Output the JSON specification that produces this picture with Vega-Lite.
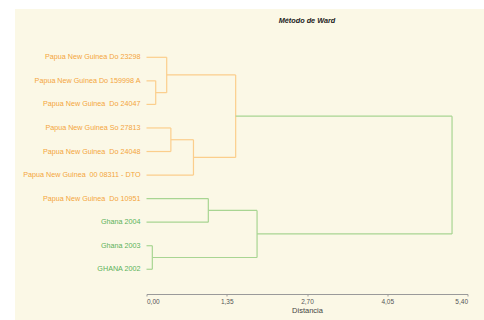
{
  "$schema": "https://vega.github.io/schema/vega-lite/v6.json",
  "width": 321,
  "height": 260.25,
  "autosize": {"type": "none"},
  "padding": {"left": 146.5, "top": 33.75, "right": 16.5, "bottom": 26},
  "background": "#ffffff",
  "title": {
    "text": "Método de Ward",
    "anchor": "middle",
    "frame": "group",
    "offset": -15.75,
    "font": "Liberation Sans",
    "fontSize": 7.3,
    "fontStyle": "italic",
    "fontWeight": "bold",
    "color": "#222222"
  },
  "config": {
    "view": {"stroke": null},
    "font": "Liberation Sans",
    "axisY": {"domain": false, "ticks": false, "labels": false, "grid": false, "title": null},
    "axisX": {
      "grid": false,
      "domainColor": "#9a9a9a",
      "tickColor": "#9a9a9a",
      "tickSize": 2,
      "labelFontSize": 6.5,
      "labelColor": "#555555",
      "labelPadding": 2,
      "titleFontSize": 7.5,
      "titleFontWeight": "normal",
      "titleColor": "#444444",
      "titlePadding": 2
    }
  },
  "datasets": {
    "segments": [
      {"d1": 0, "d2": 0.34, "o1": 1, "o2": 1, "grupo": "PNG"},
      {"d1": 0, "d2": 0.155, "o1": 2, "o2": 2, "grupo": "PNG"},
      {"d1": 0, "d2": 0.155, "o1": 3, "o2": 3, "grupo": "PNG"},
      {"d1": 0, "d2": 0.41, "o1": 4, "o2": 4, "grupo": "PNG"},
      {"d1": 0, "d2": 0.41, "o1": 5, "o2": 5, "grupo": "PNG"},
      {"d1": 0, "d2": 0.79, "o1": 6, "o2": 6, "grupo": "PNG"},
      {"d1": 0, "d2": 1.04, "o1": 7, "o2": 7, "grupo": "GH"},
      {"d1": 0, "d2": 1.04, "o1": 8, "o2": 8, "grupo": "GH"},
      {"d1": 0, "d2": 0.098, "o1": 9, "o2": 9, "grupo": "GH"},
      {"d1": 0, "d2": 0.098, "o1": 10, "o2": 10, "grupo": "GH"},
      {"d1": 0.155, "d2": 0.155, "o1": 2, "o2": 3, "grupo": "PNG"},
      {"d1": 0.155, "d2": 0.34, "o1": 2.5, "o2": 2.5, "grupo": "PNG"},
      {"d1": 0.34, "d2": 0.34, "o1": 1, "o2": 2.5, "grupo": "PNG"},
      {"d1": 0.34, "d2": 1.5, "o1": 1.75, "o2": 1.75, "grupo": "PNG"},
      {"d1": 0.41, "d2": 0.41, "o1": 4, "o2": 5, "grupo": "PNG"},
      {"d1": 0.41, "d2": 0.79, "o1": 4.5, "o2": 4.5, "grupo": "PNG"},
      {"d1": 0.79, "d2": 0.79, "o1": 4.5, "o2": 6, "grupo": "PNG"},
      {"d1": 0.79, "d2": 1.5, "o1": 5.25, "o2": 5.25, "grupo": "PNG"},
      {"d1": 1.5, "d2": 1.5, "o1": 1.75, "o2": 5.25, "grupo": "PNG"},
      {"d1": 1.5, "d2": 5.14, "o1": 3.5, "o2": 3.5, "grupo": "GH"},
      {"d1": 1.04, "d2": 1.04, "o1": 7, "o2": 8, "grupo": "GH"},
      {"d1": 1.04, "d2": 1.86, "o1": 7.5, "o2": 7.5, "grupo": "GH"},
      {"d1": 0.098, "d2": 0.098, "o1": 9, "o2": 10, "grupo": "GH"},
      {"d1": 0.098, "d2": 1.86, "o1": 9.5, "o2": 9.5, "grupo": "GH"},
      {"d1": 1.86, "d2": 1.86, "o1": 7.5, "o2": 9.5, "grupo": "GH"},
      {"d1": 1.86, "d2": 5.14, "o1": 8.5, "o2": 8.5, "grupo": "GH"},
      {"d1": 5.14, "d2": 5.14, "o1": 3.5, "o2": 8.5, "grupo": "GH"}
    ],
    "leaves": [
      {"nombre": "Papua New Guinea Do 23298", "orden": 1, "dist": 0, "pais": "PNG"},
      {"nombre": "Papua New Guinea Do 159998 A", "orden": 2, "dist": 0, "pais": "PNG"},
      {"nombre": "Papua New Guinea \u00a0Do 24047", "orden": 3, "dist": 0, "pais": "PNG"},
      {"nombre": "Papua New Guinea So 27813", "orden": 4, "dist": 0, "pais": "PNG"},
      {"nombre": "Papua New Guinea \u00a0Do 24048", "orden": 5, "dist": 0, "pais": "PNG"},
      {"nombre": "Papua New Guinea \u00a000 08311 - DTO", "orden": 6, "dist": 0, "pais": "PNG"},
      {"nombre": "Papua New Guinea \u00a0Do 10951", "orden": 7, "dist": 0, "pais": "PNG"},
      {"nombre": "Ghana 2004", "orden": 8, "dist": 0, "pais": "GH"},
      {"nombre": "Ghana 2003", "orden": 9, "dist": 0, "pais": "GH"},
      {"nombre": "GHANA 2002", "orden": 10, "dist": 0, "pais": "GH"}
    ]
  },
  "encoding": {
    "x": {
      "type": "quantitative",
      "scale": {"domain": [0, 5.4]},
      "axis": {
        "title": "Distancia",
        "zindex": 2,
        "values": [0, 1.35, 2.7, 4.05, 5.4],
        "labelExpr": "replace(format(datum.value, '.2f'), '.', ',')"
      }
    },
    "y": {
      "type": "quantitative",
      "scale": {"domain": [0, 11.05], "reverse": true}
    }
  },
  "layer": [
    {
      "data": {"values": [{"panel": "fondo"}]},
      "mark": {"type": "rect", "fill": "#FBF8E6", "zindex": 0},
      "encoding": {
        "x": {"datum": -2.212, "type": "quantitative"},
        "x2": {"datum": 6.5},
        "y": {"datum": -1.05, "type": "quantitative"},
        "y2": {"datum": 13}
      }
    },
    {
      "data": {"name": "segments"},
      "mark": {"type": "rule", "strokeWidth": 1.2},
      "encoding": {
        "x": {"field": "d1", "type": "quantitative"},
        "x2": {"field": "d2"},
        "y": {"field": "o1", "type": "quantitative"},
        "y2": {"field": "o2"},
        "color": {
          "field": "grupo",
          "type": "nominal",
          "scale": {"domain": ["PNG", "GH"], "range": ["#FBCE8C", "#A8D592"]},
          "legend": null
        }
      }
    },
    {
      "data": {"name": "leaves"},
      "mark": {"type": "text", "align": "right", "baseline": "middle", "dx": -6, "fontSize": 7.2},
      "encoding": {
        "x": {"field": "dist", "type": "quantitative"},
        "y": {"field": "orden", "type": "quantitative"},
        "text": {"field": "nombre"},
        "color": {
          "condition": {"test": "datum.pais === 'PNG'", "value": "#F4A53C"},
          "value": "#5CB25A"
        }
      }
    }
  ]
}
